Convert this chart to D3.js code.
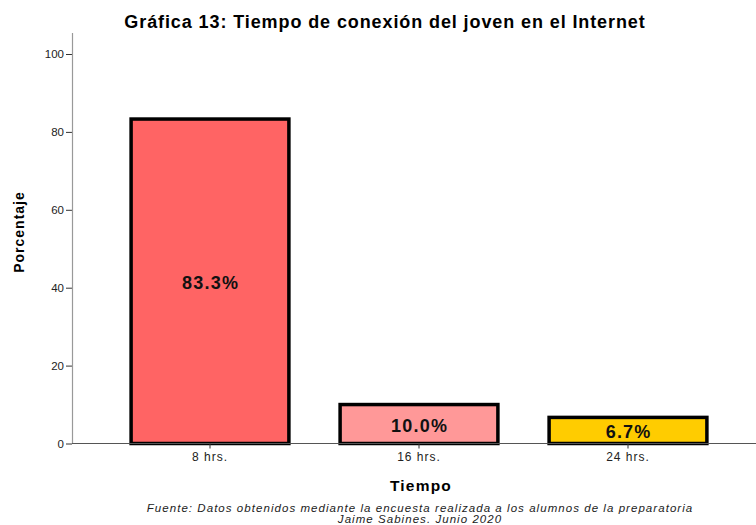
<!DOCTYPE html>
<html>
<head>
<meta charset="utf-8">
<script src="https://cdn.jsdelivr.net/npm/d3@7"></script>
<style>
  body { margin: 0; background: #fff; }
  text { font-family: "Liberation Sans", Arial, sans-serif; }
</style>
</head>
<body>
<svg id="chart" width="756" height="525"></svg>
<script>
// datos de la grafica
var categorias = ["8 hrs.", "16 hrs.", "24 hrs."];
var porcentajes = [83.3, 10.0, 6.7];
var etiquetas = ["83.3%", "10.0%", "6.7%"];
var colores = ["#FF6464", "#FF9898", "#FFCC00"];
var ticksY = [0, 20, 40, 60, 80, 100];

var svg = d3.select("#chart");

var xScale = d3.scaleBand()
  .domain(categorias)
  .range([105.5, 732.5])
  .paddingInner(0.245)
  .paddingOuter(0.1225);

var yScale = d3.scaleLinear()
  .domain([0, 100])
  .range([443.5, 54]);

// titulo
svg.append("text")
  .attr("x", 385)
  .attr("y", 28)
  .attr("text-anchor", "middle")
  .attr("font-size", 18)
  .attr("font-weight", "bold")
  .attr("letter-spacing", 0.9)
  .text("Gráfica 13: Tiempo de conexión del joven en el Internet");

// eje y
var ejeY = svg.append("g")
  .attr("transform", "translate(72,0)")
  .call(d3.axisLeft(yScale).tickValues(ticksY).tickSize(6).tickPadding(2));
ejeY.select(".domain").remove();
ejeY.selectAll(".tick line").attr("stroke", "#333");
ejeY.selectAll(".tick text").attr("font-size", 11.5).attr("fill", "#222")
  .style("font-family", "'Liberation Sans', Arial, sans-serif");
svg.append("line")
  .attr("x1", 72.5).attr("x2", 72.5)
  .attr("y1", 33).attr("y2", yScale(0))
  .attr("stroke", "#999").attr("stroke-width", 1.2);

svg.append("text")
  .attr("transform", "translate(24,232) rotate(-90)")
  .attr("text-anchor", "middle")
  .attr("font-size", 14)
  .attr("font-weight", "bold")
  .attr("letter-spacing", 1)
  .text("Porcentaje");

// barras
svg.selectAll(".bar")
  .data(porcentajes)
  .enter().append("rect")
  .attr("class", "bar")
  .attr("x", function (d, i) { return xScale(categorias[i]); })
  .attr("y", function (d) { return yScale(d); })
  .attr("width", xScale.bandwidth())
  .attr("height", function (d) { return yScale(0) - yScale(d); })
  .attr("fill", function (d, i) { return colores[i]; })
  .attr("stroke", "#000")
  .attr("stroke-width", 3.5);

svg.selectAll(".etiqueta")
  .data(porcentajes)
  .enter().append("text")
  .attr("class", "etiqueta")
  .attr("x", function (d, i) { return xScale(categorias[i]) + xScale.bandwidth() / 2 + 0.6; })
  .attr("y", function (d) { return (yScale(d) + yScale(0)) / 2 + 8; })
  .attr("text-anchor", "middle")
  .attr("font-size", 18)
  .attr("font-weight", "bold")
  .attr("letter-spacing", 1.2)
  .attr("fill", "#111")
  .text(function (d, i) { return etiquetas[i]; });

// eje x
svg.append("line")
  .attr("x1", 72).attr("x2", 756)
  .attr("y1", yScale(0)).attr("y2", yScale(0))
  .attr("stroke", "#555").attr("stroke-width", 1);

var ejeX = svg.append("g")
  .attr("transform", "translate(0," + yScale(0) + ")")
  .call(d3.axisBottom(xScale).tickSize(5).tickPadding(4));
ejeX.select(".domain").remove();
ejeX.selectAll(".tick line").attr("stroke", "#333");
ejeX.selectAll(".tick text").attr("font-size", 12).attr("fill", "#222")
  .attr("letter-spacing", 1)
  .style("font-family", "'Liberation Sans', Arial, sans-serif");

svg.append("text")
  .attr("x", 421)
  .attr("y", 491)
  .attr("text-anchor", "middle")
  .attr("font-size", 15.5)
  .attr("font-weight", "bold")
  .attr("letter-spacing", 1.2)
  .text("Tiempo");

// fuente
svg.append("text")
  .attr("x", 420)
  .attr("y", 512)
  .attr("text-anchor", "middle")
  .attr("font-size", 11.5)
  .attr("font-style", "italic")
  .attr("letter-spacing", 1.05)
  .attr("fill", "#222")
  .text("Fuente: Datos obtenidos mediante la encuesta realizada a los alumnos de la preparatoria");
svg.append("text")
  .attr("x", 420)
  .attr("y", 523)
  .attr("text-anchor", "middle")
  .attr("font-size", 11.5)
  .attr("font-style", "italic")
  .attr("letter-spacing", 1.05)
  .attr("fill", "#222")
  .text("Jaime Sabines. Junio 2020");
</script>
</body>
</html>
